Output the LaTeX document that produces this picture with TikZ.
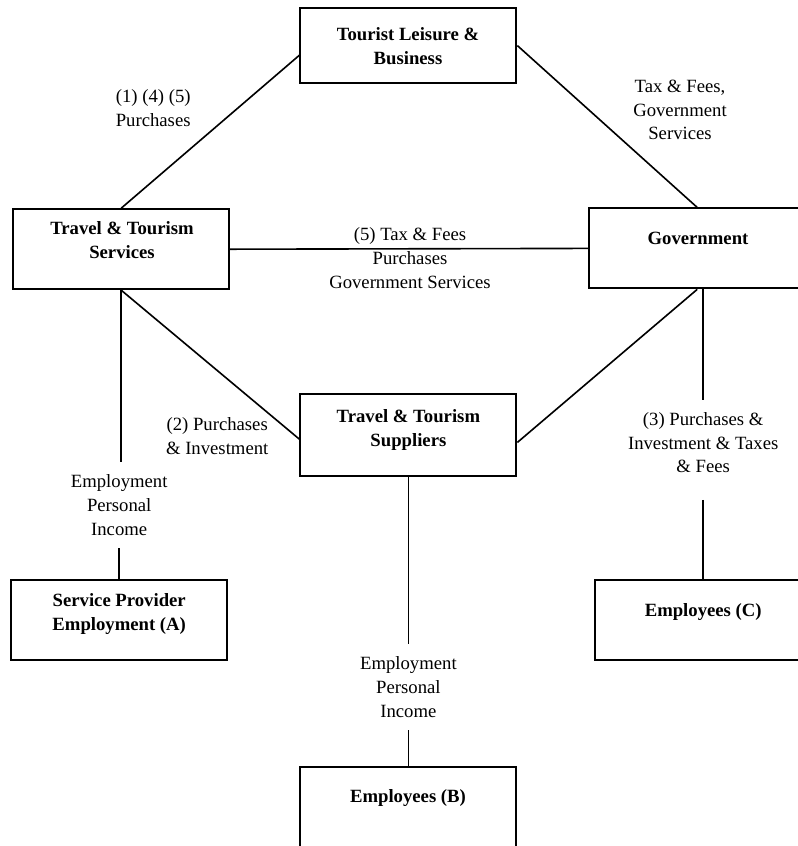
\documentclass[tikz,border=0pt]{standalone}
\usepackage{fontspec}
\setmainfont{Liberation Serif}
\tikzset{
    box/.style={draw, line width=1.4pt, minimum width=5.4cm, minimum height=2cm, inner sep=0pt},
    boxtext/.style={font=\bfseries\fontsize{13.3}{17}\selectfont, align=center},
    flow/.style={font=\fontsize{13.3}{16.8}\selectfont, align=center, inner sep=9pt},
    link/.style={line width=1.15pt}
}

\begin{document}
\begin{tikzpicture}
    \useasboundingbox (0,0) rectangle (19.95,-21.15);
    % boxes
    \node[box, minimum height=1.88cm] (tlb) at (10.21,-1.14) {};
    \node[box] (tts) at (3.03,-6.23) {};
    \node[box, minimum width=5.7cm] (gov) at (17.58,-6.21) {};
    \node[box, minimum height=2.05cm] (sup) at (10.21,-10.88) {};
    \node[box] (spa) at (2.98,-15.49) {};
    \node[box] (empc) at (17.58,-15.49) {};
    \node[box, minimum height=2.05cm] (empb) at (10.21,-20.2) {};
    \node[boxtext] (tlbT) at (10.2,-1.16) {Tourist Leisure \&\\Business};
    \node[boxtext] (ttsT) at (3.05,-6.0) {Travel \& Tourism\\Services};
    \node[boxtext] (govT) at (17.45,-5.95) {Government};
    \node[boxtext] (supT) at (10.21,-10.74) {Travel \& Tourism\\Suppliers};
    \node[boxtext] (spaT) at (2.98,-15.34) {Service Provider\\Employment (A)};
    \node[boxtext] (empcT) at (17.58,-15.3) {Employees (C)};
    \node[boxtext] (empbT) at (10.2,-19.95) {Employees (B)};
    % flows
    \node[flow] (buy) at (3.83,-2.70) {(1) (4) (5)\\Purchases};
    \node[flow] (taxgov) at (17.0,-2.75) {Tax \& Fees,\\Government\\Services};
    \node[flow] (taxmid) at (10.25,-6.45) {(5) Tax \& Fees\\Purchases\\Government Services};
    \node[flow] (invest) at (5.43,-10.9) {(2) Purchases\\\& Investment};
    \node[flow] (payA) at (2.98,-12.63) {Employment\\Personal\\Income};
    \node[flow] (payB) at (10.21,-17.18) {Employment\\Personal\\Income};
    \node[flow] (payC) at (17.58,-11.07) {(3) Purchases \&\\Investment \& Taxes\\\& Fees};
    \draw[link] ([yshift=-0.24cm]tlb.west) -- (tts.north);
    \draw[link] (tlb.east) -- ([xshift=-0.15cm]gov.north);
    \draw[link] (tts.east) -- (gov.west);
    \draw[link] (tts.south) -- ([yshift=-0.1cm]sup.west);
    \draw[link] ([yshift=-0.18cm]sup.east) -- ([xshift=-0.15cm]gov.south);
    \draw[link] (tts.south) -- (tts.south |- payA.north);
    \draw[link] (spa.north |- payA.south) -- (spa.north);
    \draw[link] (sup.south) -- (sup.south |- payB.north);
    \draw[link] (empb.north |- payB.south) -- (empb.north);
    \draw[link] (gov.south) -- (gov.south |- payC.north);
    \draw[link] ([yshift=-0.35cm]payC.south) -- (empc.north);
\end{tikzpicture}
\end{document}
